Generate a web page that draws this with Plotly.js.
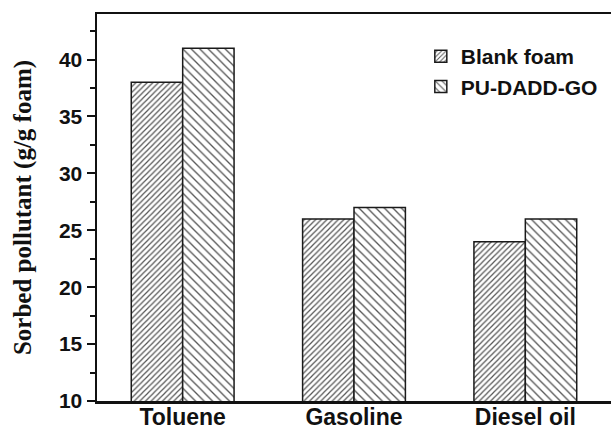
<!DOCTYPE html>
<html>
<head>
<meta charset="utf-8">
<script src="https://cdn.plot.ly/plotly-3.0.1.min.js"></script>
<style>html,body{margin:0;padding:0;background:#fff;}#chart{width:611px;height:431px;}</style>
</head>
<body>
<div id="chart"></div>
<script>
const categories = ["Toluene", "Gasoline", "Diesel oil"];
const blankFoam = [38, 26, 24];
const puDaddGo = [41, 27, 26];
const seriesNames = ["Blank foam", "PU-DADD-GO"];
const yTickVals = [10, 15, 20, 25, 30, 35, 40];

const sans = "Arial, 'Liberation Sans', sans-serif";
const serif = "'Times New Roman', 'Liberation Serif', serif";

const traces = [
  {
    type: "bar", name: seriesNames[0], x: categories, y: blankFoam,
    marker: {color: "#ffffff", line: {color: "#1a1a1a", width: 1.5},
      pattern: {shape: "/", size: 4, solidity: 0.3, fgcolor: "#555555", bgcolor: "#ffffff", fillmode: "replace"}}
  },
  {
    type: "bar", name: seriesNames[1], x: categories, y: puDaddGo,
    marker: {color: "#ffffff", line: {color: "#1a1a1a", width: 1.5},
      pattern: {shape: "\\", size: 6, solidity: 0.22, fgcolor: "#555555", bgcolor: "#ffffff", fillmode: "replace"}}
  }
];

const layout = {
  width: 611, height: 431,
  margin: {l: 97, r: 0, t: 14, b: 30},
  paper_bgcolor: "#ffffff", plot_bgcolor: "#ffffff",
  barmode: "group", bargap: 0.4, bargroupgap: 0,
  showlegend: true,
  legend: {x: 0.63, y: 0.943, xanchor: "left", yanchor: "top",
    font: {family: sans, size: 21, color: "#111", weight: "bold"},
    bgcolor: "rgba(0,0,0,0)", borderwidth: 0, tracegroupgap: 0},
  xaxis: {
    type: "category", range: [-0.5, 2.5],
    showline: true, linecolor: "#111", linewidth: 2.5, mirror: true,
    ticks: "", showgrid: false, zeroline: false, ticklabelstandoff: -6,
    tickfont: {family: sans, size: 23, color: "#111", weight: "bold"}
  },
  yaxis: {
    range: [10, 44], tickvals: yTickVals,
    showline: true, linecolor: "#111", linewidth: 2.5,
    ticks: "outside", ticklen: 8, tickwidth: 2, tickcolor: "#111",
    minor: {dtick: 2.5, ticks: "outside", ticklen: 5, tickwidth: 2, tickcolor: "#111", showgrid: false},
    showgrid: false, zeroline: false,
    tickfont: {family: sans, size: 21, color: "#111", weight: "bold"},
    title: {text: "Sorbed pollutant (g/g foam)", standoff: 20,
      font: {family: serif, size: 25, color: "#111", weight: "bold"}}
  }
};

Plotly.newPlot("chart", traces, layout, {displayModeBar: false, staticPlot: true});
</script>
</body>
</html>
